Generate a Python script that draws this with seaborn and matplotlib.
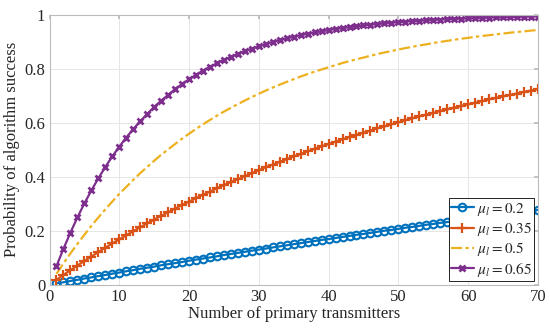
import numpy as np
import pandas as pd
import matplotlib
matplotlib.use("Agg")
import matplotlib.pyplot as plt
import seaborn as sns

# number of primary transmitters (x axis)
n_tx = list(range(1, 71))

# values
mu_020 = [0.005, 0.009, 0.014, 0.018, 0.023, 0.027, 0.032, 0.036, 0.041, 0.045,
          0.050, 0.054, 0.059, 0.063, 0.067, 0.072, 0.076, 0.080, 0.084, 0.089,
          0.093, 0.097, 0.101, 0.105, 0.110, 0.114, 0.118, 0.122, 0.126, 0.130,
          0.134, 0.138, 0.142, 0.146, 0.150, 0.154, 0.158, 0.162, 0.166, 0.169,
          0.173, 0.177, 0.181, 0.185, 0.188, 0.192, 0.196, 0.200, 0.203, 0.207,
          0.211, 0.214, 0.218, 0.222, 0.225, 0.229, 0.232, 0.236, 0.240, 0.243,
          0.247, 0.250, 0.254, 0.257, 0.260, 0.264, 0.267, 0.271, 0.274, 0.277]
mu_035 = [0.018, 0.036, 0.054, 0.071, 0.088, 0.104, 0.121, 0.137, 0.153, 0.168,
          0.183, 0.198, 0.213, 0.227, 0.241, 0.255, 0.268, 0.282, 0.295, 0.308,
          0.320, 0.333, 0.345, 0.357, 0.369, 0.380, 0.391, 0.402, 0.413, 0.424,
          0.435, 0.445, 0.455, 0.465, 0.475, 0.484, 0.494, 0.503, 0.512, 0.521,
          0.530, 0.538, 0.547, 0.555, 0.563, 0.571, 0.579, 0.586, 0.594, 0.601,
          0.609, 0.616, 0.623, 0.630, 0.636, 0.643, 0.649, 0.656, 0.662, 0.668,
          0.674, 0.680, 0.686, 0.692, 0.697, 0.703, 0.708, 0.714, 0.719, 0.724]
mu_050 = [0.040, 0.079, 0.116, 0.151, 0.185, 0.218, 0.249, 0.279, 0.308, 0.336,
          0.362, 0.388, 0.413, 0.436, 0.459, 0.481, 0.501, 0.521, 0.541, 0.559,
          0.577, 0.594, 0.610, 0.626, 0.641, 0.655, 0.669, 0.682, 0.695, 0.707,
          0.719, 0.730, 0.741, 0.751, 0.761, 0.771, 0.780, 0.789, 0.797, 0.805,
          0.813, 0.821, 0.828, 0.835, 0.841, 0.848, 0.854, 0.860, 0.865, 0.871,
          0.876, 0.881, 0.886, 0.890, 0.895, 0.899, 0.903, 0.907, 0.911, 0.914,
          0.918, 0.921, 0.924, 0.927, 0.930, 0.933, 0.936, 0.938, 0.941, 0.943]
mu_065 = [0.069, 0.133, 0.193, 0.249, 0.301, 0.349, 0.394, 0.436, 0.475, 0.511,
          0.545, 0.576, 0.605, 0.632, 0.658, 0.681, 0.703, 0.724, 0.743, 0.761,
          0.777, 0.793, 0.807, 0.820, 0.833, 0.844, 0.855, 0.865, 0.874, 0.883,
          0.891, 0.899, 0.906, 0.912, 0.918, 0.924, 0.929, 0.934, 0.938, 0.943,
          0.947, 0.950, 0.954, 0.957, 0.960, 0.963, 0.965, 0.968, 0.970, 0.972,
          0.974, 0.976, 0.977, 0.979, 0.980, 0.982, 0.983, 0.984, 0.985, 0.986,
          0.987, 0.988, 0.989, 0.990, 0.990, 0.991, 0.992, 0.992, 0.993, 0.993]

labels = [r"$\mu_l = 0.2$", r"$\mu_l = 0.35$", r"$\mu_l = 0.5$", r"$\mu_l = 0.65$"]
x_ticks = [0, 10, 20, 30, 40, 50, 60, 70]
y_ticks = [0, 0.2, 0.4, 0.6, 0.8, 1]
y_tick_labels = ["0", "0.2", "0.4", "0.6", "0.8", "1"]

sns.set_theme(style="whitegrid")
plt.rcParams["font.family"] = ["Liberation Serif", "DejaVu Serif"]
plt.rcParams["mathtext.fontset"] = "stix"

fig = plt.figure(figsize=(5.5, 3.33), dpi=100)
ax = fig.add_axes([0.090, 0.145, 0.888, 0.811])

colors = ["#0072BD", "#D95319", "#EDB120", "#7E2F8E"]
styles = [
    dict(marker="o", linestyle="-", markerfacecolor="none",
         markersize=5.5, markeredgewidth=1.5),
    dict(marker="+", linestyle="-", markersize=7, markeredgewidth=1.6),
    dict(marker="None", linestyle=(0, (5, 1.5, 1.5, 1.5))),
    dict(marker="x", linestyle="-", markersize=5, markeredgewidth=2.0),
]
series = [mu_020, mu_035, mu_050, mu_065]

for vals, lab, col, st in zip(series, labels, colors, styles):
    df = pd.DataFrame({"n": n_tx, "p": vals})
    sns.lineplot(data=df, x="n", y="p", ax=ax, linewidth=1.6, color=col)
    line = ax.lines[-1]
    line.set(label=lab, color=col, markeredgecolor=col, **st)

ax.set_xlim(0, 70)
ax.set_ylim(0, 1)
ax.set_xticks(x_ticks)
ax.set_yticks(y_ticks)
ax.set_yticklabels(y_tick_labels)
ax.set_xlabel("Number of primary transmitters", fontsize=12, labelpad=1)
ax.set_ylabel("Probability of algorithm success", fontsize=12, labelpad=3)
ax.tick_params(axis="both", labelsize=12, direction="in", length=3,
               color="#bbbbbb", pad=3, top=True, right=True)
ax.grid(True, color="#e6e6e6", linewidth=0.7)
for sp in ax.spines.values():
    sp.set_color("#bbbbbb")
    sp.set_linewidth(0.8)

leg = ax.legend(handles=ax.lines[-4:], loc="lower right", fontsize=11,
                frameon=True, fancybox=False, borderpad=0.15, labelspacing=0.15,
                handlelength=1.5, handletextpad=0.2, borderaxespad=0.25)
leg.get_frame().set_edgecolor("black")
leg.get_frame().set_linewidth(0.6)
leg.get_frame().set_alpha(1)

fig.savefig("out.png", dpi=100)
